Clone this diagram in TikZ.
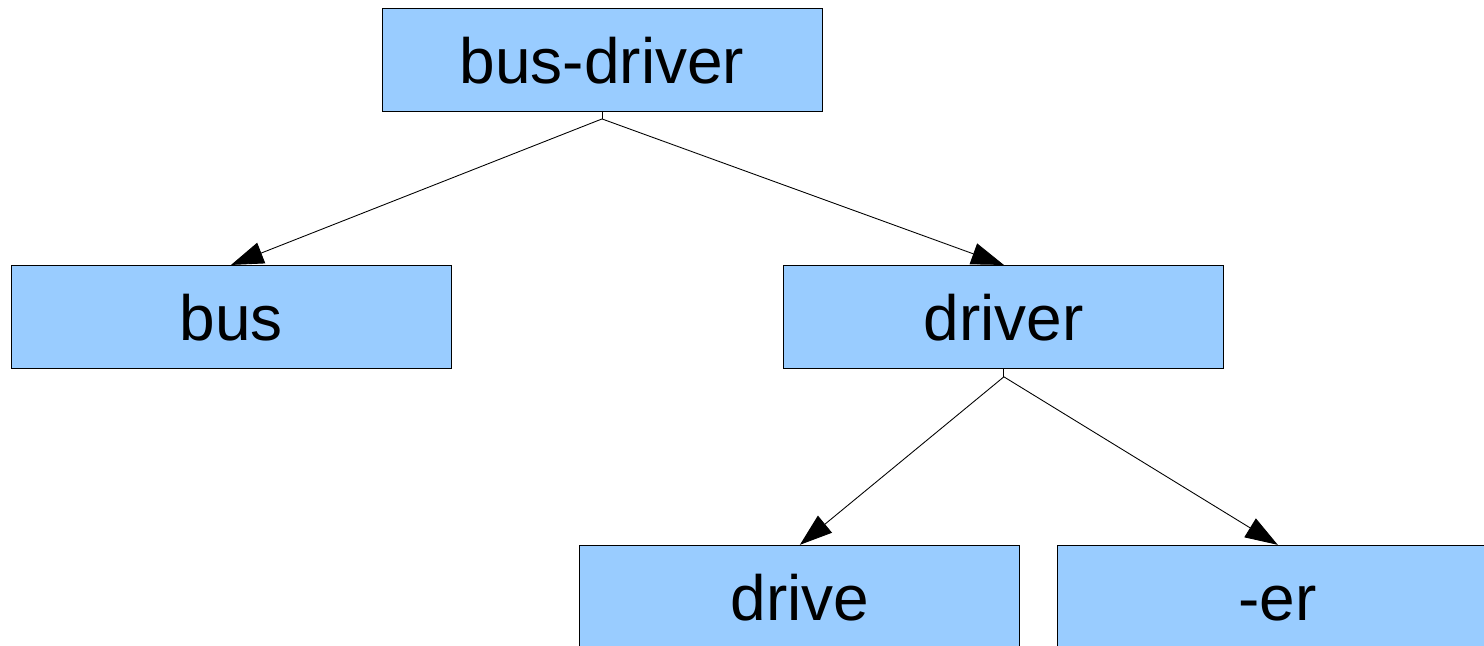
\documentclass[tikz,border=0pt]{standalone}
\usepackage{fontspec}
\setmainfont{Liberation Sans}
\usepackage{tikz}
\usetikzlibrary{arrows.meta, positioning, calc}
\definecolor{boxblue}{HTML}{99CCFF}
\tikzset{block/.style={rectangle,draw=black,line width=0.5pt,fill=boxblue,minimum width=8.8cm,minimum height=2.06cm,inner sep=0pt,text height=0.95cm,text depth=0pt,font=\fontsize{36.4}{40}\selectfont},
         stem/.style={line width=0.5pt},
         arrow/.style={-{Triangle[length=0.65cm,width=0.44cm]},line width=0.5pt}}

\begin{document}
\begin{tikzpicture}
    \useasboundingbox (0,0) rectangle (29.68,-12.9);
    \clip (0,0) rectangle (29.68,-12.9);
    \node (bd) [block] at (12.04,-1.2) {bus-driver};
    \node (bus) [block, below=3.06cm of bd, xshift=-7.42cm] {bus};
    \node (driver) [block, right=6.64cm of bus] {driver};
    \node (drive) [block, below=3.52cm of driver, xshift=-4.08cm] {drive};
    \node (er) [block, right=0.74cm of drive] {-er};
    % short stems under the parents
    \coordinate (bdfork) at ($(bd.south)+(0,-0.14)$);
    \coordinate (drfork) at ($(driver.south)+(0,-0.16)$);
    \draw[stem] (bd.south) -- (bdfork);
    \draw[stem] (driver.south) -- (drfork);
    \draw[arrow] (bdfork) -- (bus.north);
    \draw[arrow] (bdfork) -- (driver.north);
    \draw[arrow] (drfork) -- (drive.north);
    \draw[arrow] (drfork) -- (er.north);
\end{tikzpicture}
\end{document}
